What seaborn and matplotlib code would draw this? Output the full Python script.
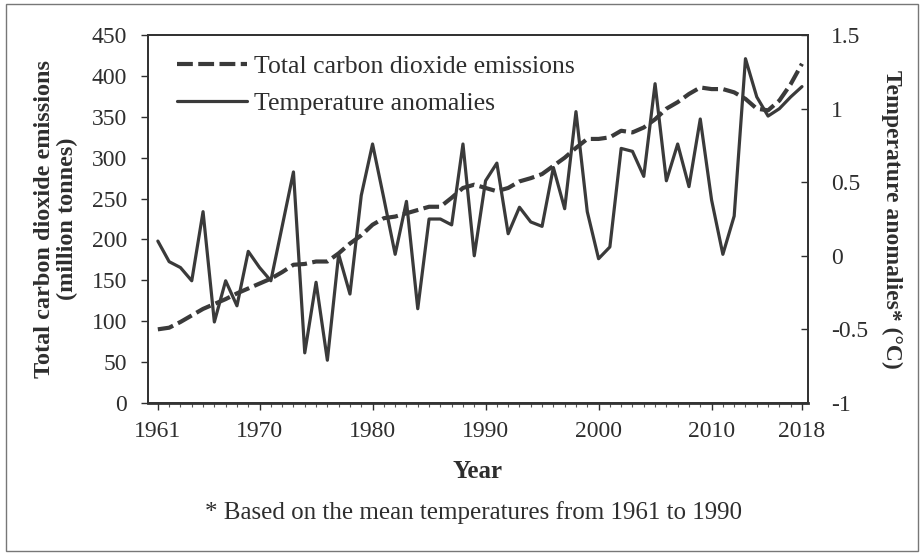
import numpy as np
import pandas as pd
import seaborn as sns
import matplotlib.pyplot as plt
from matplotlib.patches import Rectangle
from matplotlib.ticker import MultipleLocator

years = list(range(1961, 2019))

co2 = [90, 92, 99, 107, 115, 121, 127, 134, 140, 146,
       152, 160, 169, 170, 173, 173, 183, 195, 205, 218,
       226, 228, 232, 236, 240, 240, 251, 263, 267, 263,
       259, 263, 271, 275, 280, 290, 300, 312, 323, 323,
       325, 333, 331, 337, 347, 360, 368, 378, 386, 384,
       384, 380, 372, 360, 358, 370, 390, 415]

temp = [0.10, -0.04, -0.08, -0.17, 0.30, -0.45, -0.17, -0.34, 0.03, -0.08,
        -0.17, 0.20, 0.57, -0.66, -0.18, -0.71, 0.01, -0.26, 0.41, 0.76,
        0.39, 0.01, 0.37, -0.36, 0.25, 0.25, 0.21, 0.76, 0.00, 0.51,
        0.63, 0.15, 0.33, 0.23, 0.20, 0.60, 0.32, 0.98, 0.30, -0.02,
        0.06, 0.73, 0.71, 0.54, 1.17, 0.51, 0.76, 0.47, 0.93, 0.38,
        0.01, 0.27, 1.34, 1.08, 0.95, 1.00, 1.08, 1.15]

year_ticks = [1961, 1970, 1980, 1990, 2000, 2010, 2018]

df = pd.DataFrame({'year': years, 'co2': co2, 'temp': temp})

sns.set_style('ticks')
plt.rcParams['font.family'] = ['Liberation Serif', 'DejaVu Serif']
line_col = '#3a3a3a'
txt_col = '#2e2e2e'

fig = plt.figure(figsize=(9.23, 5.58), dpi=100)
ax = fig.add_axes([0.160, 0.278, 0.715, 0.659])
ax2 = ax.twinx()

sns.lineplot(data=df, x='year', y='co2', ax=ax, color=line_col, lw=3.0,
             linestyle=(0, (3.8, 1.3)), label='Total carbon dioxide emissions', legend=False)
sns.lineplot(data=df, x='year', y='temp', ax=ax2, color=line_col, lw=2.3,
             label='Temperature anomalies', legend=False)

ax.set_xlim(1960.1, 2018.5)
ax.set_ylim(0, 450)
ax2.set_ylim(-1, 1.5)
ax.set_yticks(range(0, 451, 50))
ax2.set_yticks([-1, -0.5, 0, 0.5, 1, 1.5])
ax2.set_yticklabels(['-1', '-0.5', '0', '0.5', '1', '1.5'])
ax.set_xticks(year_ticks)
ax.xaxis.set_minor_locator(MultipleLocator(1))

for a in (ax, ax2):
    for s in a.spines.values():
        s.set_visible(True)
        s.set_color('#333333')
        s.set_linewidth(1.3)
ax.spines['bottom'].set_linewidth(2.0)

ax.tick_params(axis='both', which='major', labelsize=17, colors=txt_col, length=5, width=1)
ax.tick_params(axis='y', pad=10)
ax.tick_params(axis='x', which='minor', length=3, width=0.8, colors='#555555')
ax.tick_params(axis='x', pad=8)
ax2.tick_params(axis='y', labelsize=17, colors=txt_col, direction='in', length=5, width=1, pad=17)

ax.set_xlabel('Year', fontsize=18, fontweight='bold', color=txt_col, labelpad=13)
ax.set_ylabel('Total carbon dioxide emissions\n(million tonnes)', fontsize=17.5,
              fontweight='bold', color=txt_col, labelpad=10, linespacing=1.1)
ax2.set_ylabel('Temperature anomalies* (°C)', fontsize=17, fontweight='bold',
               color=txt_col, rotation=270, labelpad=24)

h1, l1 = ax.get_legend_handles_labels()
h2, l2 = ax2.get_legend_handles_labels()
ax.legend(h1 + h2, l1 + l2, loc='upper left', frameon=False, fontsize=18.5,
          handlelength=2.7, handletextpad=0.3, labelspacing=0.55,
          bbox_to_anchor=(0.01, 1.01), labelcolor=txt_col)

fig.text(0.513, 0.082, '* Based on the mean temperatures from 1961 to 1990',
         ha='center', va='center', fontsize=18, color=txt_col)

fig.patches.append(Rectangle((0.007, 0.012), 0.988, 0.98, transform=fig.transFigure,
                             fill=False, edgecolor='#777777', lw=1))

fig.savefig('out.png', dpi=100)
